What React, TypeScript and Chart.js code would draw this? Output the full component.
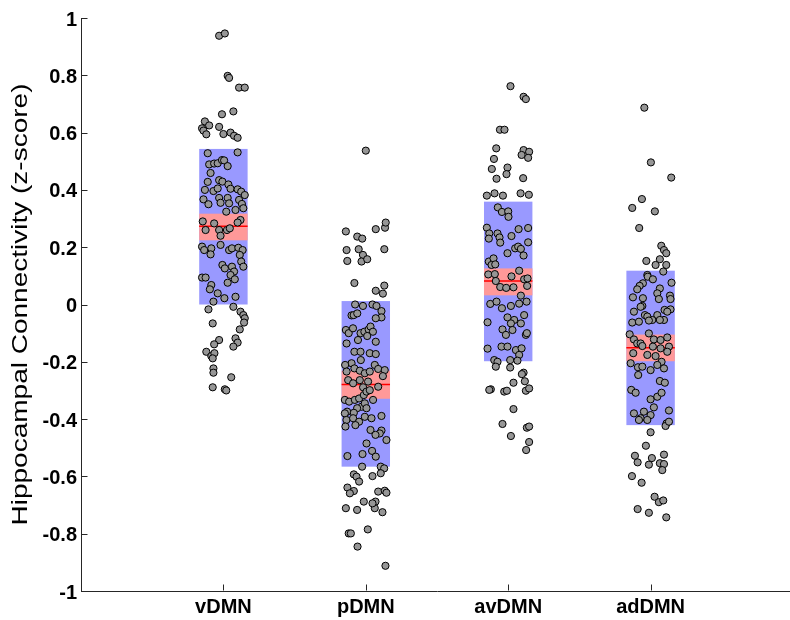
import React, { useEffect, useRef } from "react";
import Chart from "chart.js/auto";

// ---- data ----
const groupLabels = ["vDMN", "pDMN", "avDMN", "adDMN"];
const groupPositions = [1, 2, 3, 4];
const yTickValues = [-1, -0.8, -0.6, -0.4, -0.2, 0, 0.2, 0.4, 0.6, 0.8, 1];
const yAxisTitle = "Hippocampal Connectivity (z-score)";

const groupMeans = [0.273, -0.279, 0.082, -0.151];
const sdHigh = [0.543, 0.012, 0.359, 0.118];
const sdLow = [0.0, -0.566, -0.198, -0.421];
const semHigh = [0.317, -0.231, 0.126, -0.105];
const semLow = [0.224, -0.329, 0.032, -0.198];

const vDMNValues = [
  0.938, 0.946, 0.798, 0.791, 0.757, 0.757, 0.674, 0.664, 0.639, 0.625,
  0.615, 0.607, 0.594, 0.62, 0.595, 0.6, 0.589, 0.582, 0.528, 0.531,
  0.489, 0.492, 0.493, 0.504, 0.503, 0.483, 0.459, 0.428, 0.4, 0.367,
  0.35, 0.396, 0.405, 0.434, 0.429, 0.419, 0.404, 0.402, 0.394, 0.382,
  0.372, 0.355, 0.372, 0.353, 0.365, 0.351, 0.336, 0.324, 0.33, 0.295,
  0.286, 0.29, 0.26, 0.283, 0.26, 0.24, 0.26, 0.266, 0.202, 0.19,
  0.196, 0.175, 0.208, 0.19, 0.196, 0.198, 0.19, 0.173, 0.15, 0.132,
  0.138, 0.126, 0.132, 0.115, 0.103, 0.088, 0.094, 0.094, 0.076, 0.068,
  0.053, 0.039, 0.022, 0.027, 0.01, -0.017, -0.008, -0.025, -0.037, -0.048,
  -0.063, -0.066, -0.087, -0.124, -0.139, -0.118, -0.133, -0.147, -0.165, -0.18,
  -0.17, -0.188, -0.223, -0.238, -0.254, -0.289, -0.296, -0.3,
];
const vDMNJitter = [
  -0.03, 0.01, 0.03, 0.04, 0.11, 0.15, 0.07, -0.01, -0.13, -0.1,
  -0.15, -0.14, -0.12, -0.03, 0, 0.05, 0.075, 0.1, -0.11, 0.1,
  -0.1, -0.065, -0.04, -0.01, 0.005, 0.03, -0.09, -0.11, -0.13, -0.14,
  -0.105, -0.07, -0.04, -0.03, -0.007, 0.035, 0.05, 0.1, 0.125, 0.15,
  -0.03, -0.02, 0.03, 0.04, 0.11, 0.13, 0.14, 0.02, 0.085, 0.12,
  0.1, -0.145, -0.125, -0.065, -0.03, -0.02, 0.025, 0.045, -0.15, -0.135,
  -0.085, -0.09, -0.02, 0.04, 0.06, 0.105, 0.135, 0.115, 0.125, 0.14,
  -0.007, 0.01, 0.06, 0.075, 0.05, 0.08, -0.15, -0.125, 0.03, -0.085,
  -0.095, -0.04, 0.007, 0.085, -0.07, -0.105, 0.07, 0.12, 0.14, 0.15,
  0.145, -0.075, 0.115, -0.03, -0.065, 0.085, 0.1, 0.07, -0.12, -0.085,
  -0.063, -0.075, -0.07, -0.07, 0.055, -0.075, 0.01, 0.02,
];

const pDMNValues = [
  0.537, 0.255, 0.19, 0.152, 0.237, 0.23, 0.193, 0.173, 0.15, 0.158,
  0.075, 0.263, 0.268, 0.286, 0.193, 0.048, 0.038, 0.066, 0.0, -0.038,
  -0.005, 0.0, -0.005, -0.023, -0.045, -0.037, -0.031, -0.048, -0.089, -0.1,
  -0.083, -0.1, -0.095, -0.087, -0.077, -0.095, -0.11, -0.124, -0.13, -0.136,
  -0.165, -0.165, -0.205, -0.211, -0.194, -0.17, -0.173, -0.211, -0.225, -0.229,
  -0.25, -0.223, -0.231, -0.24, -0.234, -0.234, -0.264, -0.275, -0.264, -0.289,
  -0.269, -0.287, -0.333, -0.339, -0.333, -0.328, -0.316, -0.304, -0.299, -0.357,
  -0.362, -0.345, -0.333, -0.362, -0.374, -0.378, -0.38, -0.403, -0.397, -0.409,
  -0.392, -0.397, -0.426, -0.421, -0.438, -0.389, -0.44, -0.45, -0.455, -0.473,
  -0.485, -0.522, -0.529, -0.511, -0.531, -0.566, -0.593, -0.601, -0.618, -0.639,
  -0.651, -0.659, -0.566, -0.572, -0.589, -0.599, -0.653, -0.688, -0.711, -0.65,
  -0.657, -0.694, -0.688, -0.711, -0.717, -0.725, -0.799, -0.799, -0.785, -0.845, -0.912,
];
const pDMNJitter = [
  0, -0.14, -0.135, -0.13, -0.06, -0.025, -0.05, -0.02, -0.03, 0.01,
  -0.08, 0.07, 0.135, 0.14, 0.13, 0.07, 0.12, 0.13, -0.075, -0.1,
  -0.02, 0.047, 0.075, 0.11, 0.11, -0.085, -0.06, 0.07, -0.14, -0.12,
  -0.09, -0.037, -0.01, 0.02, 0.033, 0.05, 0.01, -0.055, 0.07, -0.135,
  -0.08, -0.037, -0.1, -0.145, -0.035, 0.028, 0.07, 0.063, 0.087, 0.133,
  0.12, -0.08, -0.042, -0.007, 0.028, -0.135, -0.124, -0.089, -0.042, -0.019,
  0.016, 0.087, -0.147, -0.117, -0.077, -0.047, -0.014, 0.005, 0.028, -0.03,
  -0.061, -0.007, 0.051, 0.005, -0.131, -0.084, -0.147, -0.136, -0.089, -0.047,
  -0.007, 0.04, -0.143, -0.073, 0.033, 0.11, 0.11, 0.098, 0.068, 0.145,
  0.005, -0.023, -0.129, 0.044, 0.07, -0.026, -0.084, -0.065, -0.047, -0.129,
  -0.084, -0.112, 0.105, 0.129, 0.105, 0.047, 0.087, 0.068, 0.063, 0.133,
  0.145, 0.047, -0.014, -0.14, -0.061, 0.117, -0.12, -0.105, 0.014, -0.058, 0.138,
];

const avDMNValues = [
  0.762, 0.725, 0.717, 0.61, 0.61, 0.545, 0.508, 0.473, 0.439, 0.478,
  0.455, 0.539, 0.533, 0.522, 0.512, 0.441, 0.38, 0.388, 0.38, 0.388,
  0.383, 0.339, 0.323, 0.325, 0.306, 0.268, 0.248, 0.23, 0.248, 0.234,
  0.216, 0.239, 0.263, 0.267, 0.217, 0.196, 0.202, 0.194, 0.179, 0.171,
  0.15, 0.161, 0.138, 0.14, 0.105, 0.106, 0.118, 0.088, 0.091, 0.098,
  0.082, 0.061, 0.058, 0.06, 0.065, 0.031, 0.002, 0.01, -0.013, -0.005,
  0.003, 0.01, -0.037, -0.045, -0.054, -0.066, -0.066, -0.062, -0.087, -0.106,
  -0.089, -0.106, -0.1, -0.154, -0.147, -0.147, -0.159, -0.153, -0.176, -0.194,
  -0.196, -0.194, -0.2, -0.217, -0.22, -0.238, -0.243, -0.273, -0.268, -0.296,
  -0.298, -0.304, -0.301, -0.301, -0.293, -0.365, -0.417, -0.459, -0.43, -0.426,
  -0.48, -0.508,
];
const avDMNJitter = [
  0.016, 0.108, 0.124, -0.058, -0.026, -0.084, -0.1, -0.115, -0.082, -0.005,
  -0.012, 0.108, 0.147, 0.094, 0.14, 0.105, -0.15, -0.096, -0.037, 0.087,
  0.145, -0.073, -0.044, 0, 0.002, -0.15, -0.133, -0.136, -0.075, -0.061,
  -0.056, 0.023, 0.073, 0.14, 0.14, 0.049, 0.07, 0.089, -0.005, 0.108,
  -0.136, -0.103, -0.117, -0.091, -0.14, -0.094, 0.077, 0.112, 0.136, 0.023,
  -0.087, -0.056, -0.014, 0.037, 0.133, 0.089, -0.126, -0.082, -0.044, 0.019,
  0.077, 0.129, 0.112, -0.005, 0.042, 0.019, 0.089, -0.145, -0.04, -0.016,
  0.03, 0.124, 0.131, -0.145, -0.047, -0.005, 0.054, 0.094, 0.077, 0.014,
  0.065, -0.098, -0.075, -0.087, 0.014, 0.108, 0.096, 0.037, 0.117, -0.122,
  -0.133, -0.028, -0.009, 0.124, 0.147, 0.037, -0.04, 0.019, 0.131, 0.147,
  0.147, 0.126,
];

const adDMNValues = [
  0.687, 0.496, 0.443, 0.368, 0.337, 0.325, 0.267, 0.205, 0.19, 0.179,
  0.158, 0.138, 0.138, 0.152, 0.115, 0.103, 0.097, 0.088, 0.074, 0.076,
  0.065, 0.053, 0.056, 0.039, 0.019, 0.031, 0.019, 0.025, 0.022, -0.005,
  -0.025, -0.008, -0.037, -0.042, -0.037, -0.019, -0.017, -0.054, -0.054, -0.063,
  -0.06, -0.056, -0.054, -0.025, -0.104, -0.122, -0.136, -0.136, -0.101, -0.122,
  -0.124, -0.115, -0.147, -0.153, -0.147, -0.145, -0.17, -0.176, -0.18, -0.2,
  -0.165, -0.205, -0.219, -0.217, -0.229, -0.211, -0.223, -0.246, -0.267, -0.273,
  -0.298, -0.308, -0.331, -0.322, -0.308, -0.359, -0.38, -0.374, -0.386, -0.397,
  -0.403, -0.37, -0.403, -0.415, -0.424, -0.409, -0.446, -0.493, -0.528, -0.551,
  -0.559, -0.536, -0.524, -0.554, -0.557, -0.578, -0.599, -0.622, -0.671, -0.69,
  -0.684, -0.714, -0.727, -0.743,
];
const adDMNJitter = [
  -0.044, 0.002, 0.145, -0.061, -0.129, 0.03, -0.08, 0.075, 0.094, 0.11,
  0.065, 0.035, 0.11, -0.03, 0.089, -0.023, -0.02, 0.016, -0.054, 0.147,
  -0.077, -0.094, 0.065, 0.047, 0.058, 0.136, 0.14, -0.124, -0.054, -0.058,
  -0.117, -0.07, -0.04, -0.023, 0.047, 0.098, 0.14, 0.012, 0.094, -0.129,
  -0.082, -0.012, 0.065, 0.117, -0.147, -0.117, -0.094, -0.07, -0.012, 0.023,
  0.07, 0.117, 0.129, 0.07, 0.016, -0.058, -0.122, -0.023, 0.035, 0.077,
  0.117, -0.14, -0.089, -0.058, 0, 0.047, 0.094, -0.087, 0.065, 0.1,
  -0.136, -0.105, 0, 0.047, 0.077, 0.023, -0.117, -0.047, 0, -0.07,
  -0.023, 0.129, -0.082, 0.112, 0.105, 0.129, 0, -0.033, -0.11, -0.091,
  -0.012, 0.009, 0.094, 0.065, 0.094, 0.082, -0.131, -0.063, 0.028, 0.058,
  0.089, -0.091, -0.012, 0.11,
];

const groupValues = [vDMNValues, pDMNValues, avDMNValues, adDMNValues];
const groupJitter = [vDMNJitter, pDMNJitter, avDMNJitter, adDMNJitter];

const BOX_HALF = 0.17;
const FONT = "'Liberation Sans', Arial, Helvetica, sans-serif";
const AXIS_COLOR = "#262626";

const boxPlugin = {
  id: "notBoxes",
  beforeDatasetsDraw(chart: any) {
    const { ctx, scales } = chart;
    const xs = scales.x;
    const ys = scales.y;
    ctx.save();
    groupPositions.forEach((pos, i) => {
      const x0 = xs.getPixelForValue(pos - BOX_HALF);
      const x1 = xs.getPixelForValue(pos + BOX_HALF);
      const sdTop = ys.getPixelForValue(sdHigh[i]);
      const sdBot = ys.getPixelForValue(sdLow[i]);
      ctx.fillStyle = "#9999ff";
      ctx.fillRect(x0, sdTop, x1 - x0, sdBot - sdTop);
      const seTop = ys.getPixelForValue(semHigh[i]);
      const seBot = ys.getPixelForValue(semLow[i]);
      ctx.fillStyle = "#ff9999";
      ctx.fillRect(x0, seTop, x1 - x0, seBot - seTop);
      const my = ys.getPixelForValue(groupMeans[i]);
      ctx.strokeStyle = "#ff0000";
      ctx.lineWidth = 1.5;
      ctx.beginPath();
      ctx.moveTo(x0, my);
      ctx.lineTo(x1, my);
      ctx.stroke();
    });
    ctx.restore();
  },
  afterDraw(chart: any) {
    const { ctx, scales, chartArea } = chart;
    const xs = scales.x;
    const ys = scales.y;
    ctx.save();
    ctx.strokeStyle = AXIS_COLOR;
    ctx.lineWidth = 1;
    ctx.beginPath();
    const left = Math.round(chartArea.left) + 0.5;
    yTickValues.forEach((v) => {
      const y = Math.round(ys.getPixelForValue(v)) + 0.5;
      ctx.moveTo(left, y);
      ctx.lineTo(left + 6, y);
    });
    const bottom = Math.round(chartArea.bottom) - 0.5;
    groupPositions.forEach((p) => {
      const x = Math.round(xs.getPixelForValue(p)) + 0.5;
      ctx.moveTo(x, bottom);
      ctx.lineTo(x, bottom - 6);
    });
    ctx.stroke();

    // rotated y-axis title
    ctx.translate(27, (chartArea.top + chartArea.bottom) / 2);
    ctx.rotate(-Math.PI / 2);
    ctx.scale(1, 0.76);
    ctx.fillStyle = "#000";
    ctx.font = `28px ${FONT}`;
    ctx.textAlign = "center";
    ctx.textBaseline = "alphabetic";
    ctx.fillText(yAxisTitle, 0, 0);
    ctx.restore();
  },
};

export default function App() {
  const canvasRef = useRef<HTMLCanvasElement | null>(null);

  useEffect(() => {
    if (!canvasRef.current) return;
    const datasets = groupLabels.map((label, g) => ({
      label,
      data: groupValues[g].map((v, i) => ({ x: groupPositions[g] + groupJitter[g][i], y: v })),
      pointRadius: 3.6,
      pointHoverRadius: 3.6,
      pointBorderWidth: 1,
      pointBackgroundColor: "#969696",
      pointBorderColor: "#000000",
      showLine: false,
    }));

    const chart = new Chart(canvasRef.current, {
      type: "scatter",
      data: { datasets },
      plugins: [boxPlugin],
      options: {
        animation: false,
        responsive: false,
        events: [],
        layout: { padding: { top: 18, right: 7, left: 0, bottom: 0 } },
        plugins: {
          legend: { display: false },
          tooltip: { enabled: false },
          title: { display: false },
        },
        scales: {
          x: {
            type: "linear",
            min: 0,
            max: 5,
            afterBuildTicks: (scale: any) => {
              scale.ticks = groupPositions.map((v) => ({ value: v }));
            },
            afterFit: (scale: any) => {
              scale.height = 29;
            },
            ticks: {
              autoSkip: false,
              maxRotation: 0,
              padding: 4,
              color: "#000",
              font: { family: FONT, size: 20, weight: "bold" },
              callback: (v: any) => groupLabels[groupPositions.indexOf(Number(v))] ?? "",
            },
            grid: { display: false, drawTicks: false },
            border: { display: true, color: AXIS_COLOR, width: 1 },
          },
          y: {
            type: "linear",
            min: -1,
            max: 1,
            afterBuildTicks: (scale: any) => {
              scale.ticks = yTickValues.map((v) => ({ value: v }));
            },
            afterFit: (scale: any) => {
              scale.width = 81;
            },
            ticks: {
              padding: 4,
              labelOffset: 2,
              color: "#000",
              font: { family: FONT, size: 20, weight: "bold" },
              callback: (v: any) => String(Math.round(Number(v) * 10) / 10),
            },
            grid: { display: false, drawTicks: false },
            border: { display: true, color: AXIS_COLOR, width: 1 },
          },
        },
      },
    });
    return () => chart.destroy();
  }, []);

  return (
    <div
      style={{
        position: "absolute",
        left: 0,
        top: 0,
        width: 790,
        height: 620,
        overflow: "hidden",
        background: "#fff",
      }}
    >
      <canvas ref={canvasRef} width={800} height={620} style={{ width: 800, height: 620, display: "block" }} />
    </div>
  );
}
